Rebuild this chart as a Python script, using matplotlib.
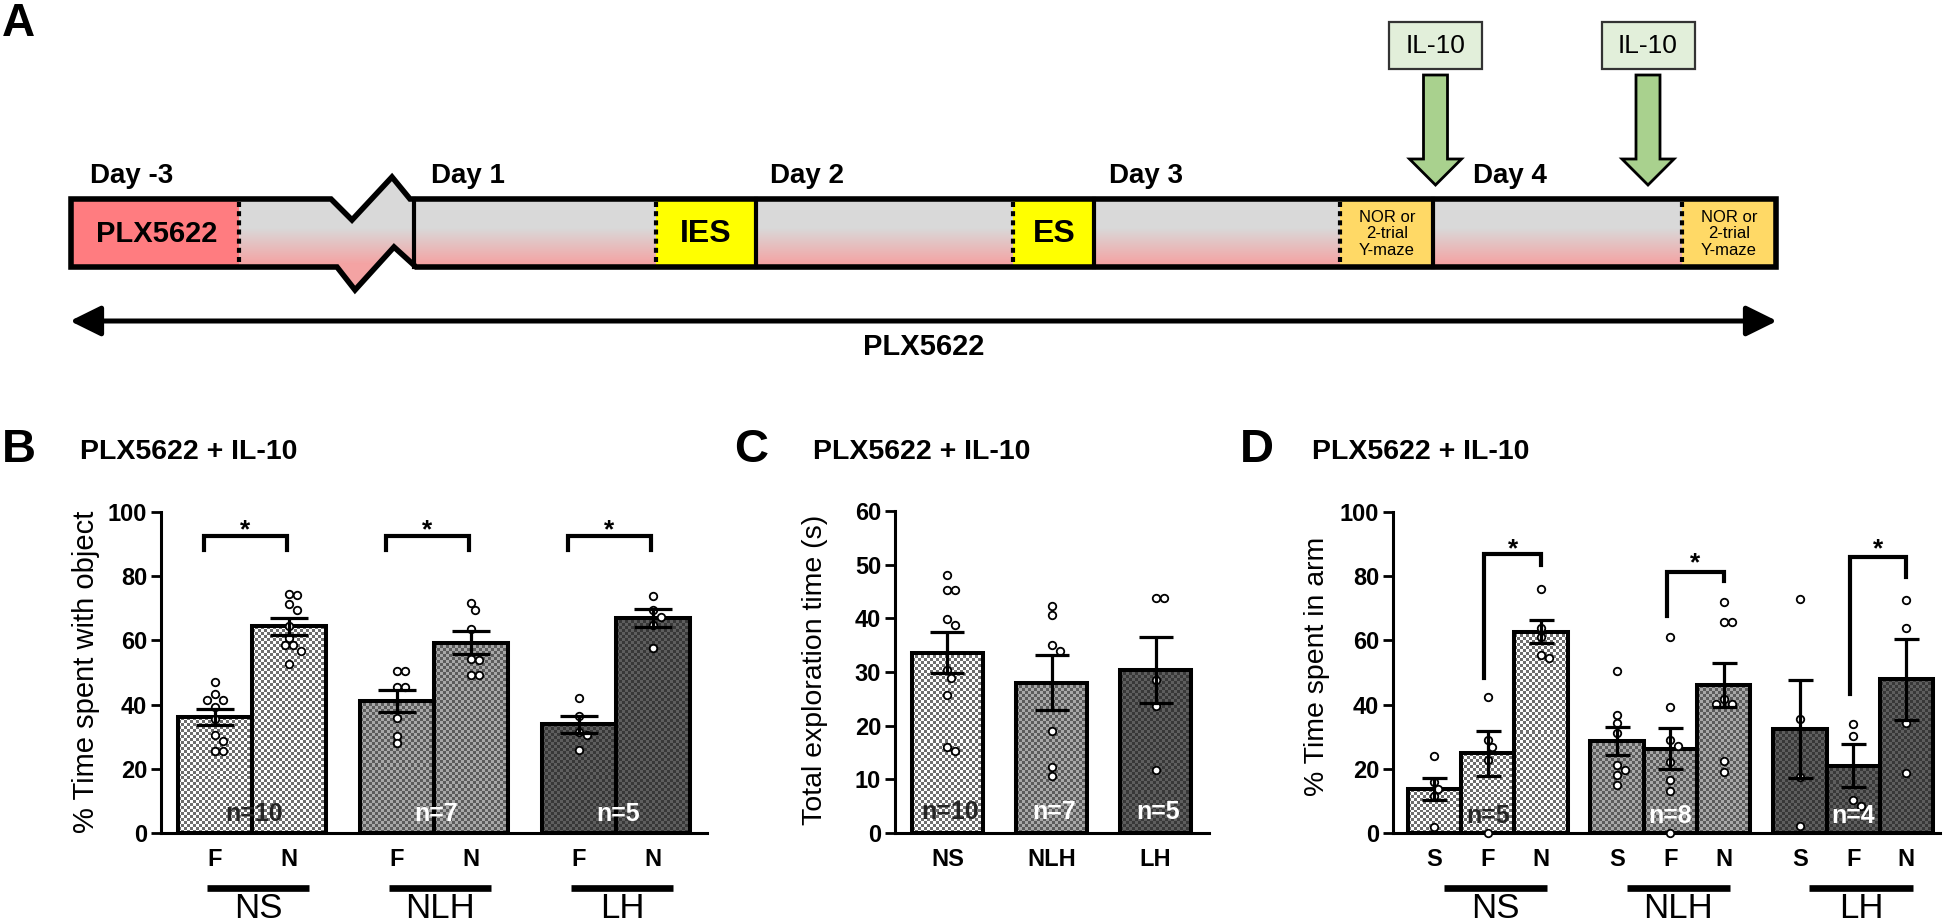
import numpy as np
import matplotlib
matplotlib.use('Agg')
import matplotlib.pyplot as plt
from matplotlib import font_manager as fm
from matplotlib import transforms
from matplotlib.colors import ListedColormap
from matplotlib.patches import Polygon, Rectangle

names = {f.name for f in fm.fontManager.ttflist}
NARROW = 'Liberation Sans Narrow' if 'Liberation Sans Narrow' in names else 'Liberation Sans'
plt.rcParams['font.family'] = ['Liberation Sans', 'DejaVu Sans']

# ---- data ----
GROUPS = ['NS', 'NLH', 'LH']

# B: novel object recognition, F = familiar, N = novel
B_CONDS = ['F', 'N']
B_MEAN = [[36.1, 64.4], [41.2, 59.3], [33.9, 67.0]]
B_SEM = [[2.5, 2.6], [3.5, 3.5], [2.6, 2.7]]
B_PTS = [
    [[47.0, 43.4, 41.4, 41.4, 39.3, 35.5, 30.5, 28.6, 25.6, 25.6],
     [74.6, 74.1, 71.2, 69.4, 64.6, 60.6, 58.5, 58.5, 56.8, 52.6]],
    [[50.4, 50.4, 45.6, 45.6, 35.9, 30.3, 27.9],
     [71.7, 69.4, 63.7, 54.2, 53.8, 49.2, 49.2]],
    [[42.2, 36.5, 31.5, 30.5, 25.8],
     [73.7, 69.4, 67.4, 64.9, 57.5]],
]
B_N = ['n=10', 'n=7', 'n=5']
# bracket: top, left leg end, right leg end, star centre
B_BRACKET = [[92.5, 88.3, 88.3, 97.0]] * 3

# C: total exploration time
C_MEAN = [33.6, 28.0, 30.4]
C_SEM = [3.8, 5.1, 6.1]
C_PTS = [
    [48.0, 45.2, 45.2, 39.9, 38.8, 30.3, 28.9, 25.7, 16.1, 15.2],
    [42.3, 40.7, 35.1, 34.0, 19.0, 12.3, 10.7],
    [43.7, 43.7, 28.5, 23.6, 11.8],
]
C_N = ['n=10', 'n=7', 'n=5']

# D: 2-trial Y-maze, S = start, F = familiar, N = novel
D_CONDS = ['S', 'F', 'N']
D_MEAN = [[13.7, 24.8, 62.7], [28.7, 26.3, 46.1], [32.5, 20.9, 47.9]]
D_SEM = [[3.4, 6.9, 3.6], [4.3, 6.5, 6.9], [15.3, 6.7, 12.6]]
D_PTS = [
    [[24.0, 15.8, 13.7, 11.6, 2.0],
     [42.4, 29.0, 26.9, 22.8, 0.0],
     [76.1, 63.9, 61.0, 55.4, 54.4]],
    [[50.5, 36.7, 34.2, 31.1, 21.2, 19.7, 18.0, 15.0],
     [61.1, 39.1, 28.9, 27.2, 22.0, 16.5, 13.0, 0.0],
     [72.0, 65.7, 65.7, 41.9, 40.1, 40.1, 22.3, 18.9]],
    [[73.0, 35.4, 17.3, 2.1],
     [34.1, 30.1, 10.3, 8.3],
     [72.5, 63.9, 34.4, 18.7]],
]
D_N = ['n=5', 'n=8', 'n=4']
D_BRACKET = [[87.0, 48.2, 83.6, 91.0], [81.3, 67.6, 78.4, 86.7], [86.0, 43.2, 79.7, 90.9]]

# checker colours per group and n-label colours
PAT = [('#ffffff', '#6e6e6e'), ('#a8a8a8', '#5c5c5c'), ('#5e5e5e', '#383838')]
NCOL = ['#262626', 'white', 'white']

TITLE = 'PLX5622 + IL-10'

W, H = 1946, 923
fig = plt.figure(figsize=(W / 100, H / 100), dpi=100)
ax0 = fig.add_axes([0, 0, 1, 1])
ax0.set_xlim(0, W)
ax0.set_ylim(H, 0)
ax0.axis('off')


# ================= panel A: timeline =================
ax0.text(2, 2, 'A', fontsize=33, fontweight='bold', ha='left', va='top')

top, bot = 199, 267
outline = [(71, top), (331, top), (352, 220), (392, 177), (410, top), (1776, top),
           (1776, bot), (416, bot), (394, 247), (355, 290), (337, bot), (71, bot)]
poly = Polygon(outline, closed=True, facecolor='none', edgecolor='black',
               linewidth=4, joinstyle='miter', zorder=4)
ax0.add_patch(poly)

yy = np.linspace(170, 295, 126)
t = np.clip((yy - 228) / (264 - 228), 0, 1)[:, None]
gray = np.array([0.851, 0.851, 0.851])
pink = np.array([0.957, 0.64, 0.64])
grad = (gray * (1 - t) + pink * t)[:, None, :].repeat(2, axis=1)
im = ax0.imshow(grad, extent=(71, 1776, 295, 170), aspect='auto', zorder=1,
                interpolation='bilinear')
im.set_clip_path(poly)

boxes = [(71, 239, '#ff7c80'), (656, 756, '#ffff00'), (1013, 1094, '#ffff00'),
         (1340, 1433, '#ffd966'), (1682, 1776, '#ffd966')]
for x0, x1, c in boxes:
    ax0.add_patch(Rectangle((x0, top), x1 - x0, bot - top, facecolor=c, edgecolor='none', zorder=2))
for x in [239, 656, 1013, 1340, 1682]:
    ax0.plot([x, x], [top + 3, bot - 3], color='black', lw=3, ls=(0, (1.2, 1.0)), zorder=3)
for x in [414, 756, 1094, 1433]:
    ax0.plot([x, x], [top, bot], color='black', lw=3, zorder=3)

ax0.text(157, 234, 'PLX5622', fontsize=21, fontweight='bold', ha='center', va='center', zorder=5)
ax0.text(706, 234, 'IES', fontsize=23, fontweight='bold', ha='center', va='center', zorder=5)
ax0.text(1054, 234, 'ES', fontsize=23, fontweight='bold', ha='center', va='center', zorder=5)
for xc in [1387, 1729]:
    ax0.text(xc, 234, 'NOR or\n2-trial\nY-maze', fontsize=12,
             ha='center', va='center', linespacing=1.1, zorder=5)

for lab, x in zip(['Day -3', 'Day 1', 'Day 2', 'Day 3', 'Day 4'], [90, 431, 770, 1109, 1473]):
    ax0.text(x, 183, lab, fontsize=20, fontweight='bold', ha='left', va='baseline')

for xc in [1435.5, 1648]:
    ax0.add_patch(Rectangle((xc - 46.5, 22), 93, 47, facecolor='#e2efda', edgecolor='#333333',
                            linewidth=1.6, zorder=3))
    ax0.text(xc, 46, 'IL-10', fontsize=19, ha='center', va='center', zorder=4)
    arrow = [(xc - 12, 75), (xc + 12, 75), (xc + 12, 159), (xc + 26, 159), (xc, 185),
             (xc - 26, 159), (xc - 12, 159)]
    ax0.add_patch(Polygon(arrow, closed=True, facecolor='#a9d18e', edgecolor='black',
                          linewidth=2, zorder=3))

ax0.annotate('', xy=(70, 321), xytext=(1777, 321),
             arrowprops=dict(arrowstyle='<|-|>,head_length=0.85,head_width=0.42', lw=3.6,
                             color='black', mutation_scale=22, shrinkA=0, shrinkB=0))
ax0.text(924, 347, 'PLX5622', fontsize=21, fontweight='bold', ha='center', va='center')


# ================= helpers for B, C, D =================
def new_axes(left, right, ybot=833, ytop=512):
    ax = fig.add_axes([left / W, 1 - ybot / H, (right - left) / W, (ybot - ytop) / H])
    ax.patch.set_visible(False)
    for s in ['top', 'right']:
        ax.spines[s].set_visible(False)
    for s in ['left', 'bottom']:
        ax.spines[s].set_linewidth(2.2)
    ax.tick_params(axis='y', length=7, width=2, pad=3, labelsize=17)
    ax.tick_params(axis='x', length=0, pad=10.5, labelsize=17)
    return ax


def checker(ax, x0, x1, y1, c1, c2, cell=3.0):
    p0 = ax.transData.transform((x0, 0))
    p1 = ax.transData.transform((x1, y1))
    nx = max(1, int(round((p1[0] - p0[0]) / cell)))
    ny = max(1, int(round((p1[1] - p0[1]) / cell)))
    arr = np.add.outer(np.arange(ny), np.arange(nx)) % 2
    ax.imshow(arr, extent=(x0, x1, 0, y1), cmap=ListedColormap([c1, c2]), vmin=0, vmax=1,
              interpolation='nearest', aspect='auto', origin='lower', zorder=1)


def swarm_x(ax, xc, vals, d=8.0):
    tr = ax.transData
    px0 = tr.transform((xc, 0))[0]
    placed, out = [], []
    for v in vals:
        py = tr.transform((xc, v))[1]
        cx = px0
        for k in [0, 0.5, -0.5, 1, -1, 1.5, -1.5, 2, -2]:
            cx = px0 + k * d
            if all((cx - qx) ** 2 + (py - qy) ** 2 >= (d * 0.95) ** 2 for qx, qy in placed):
                break
        placed.append((cx, py))
        out.append(tr.inverted().transform((cx, py))[0])
    return out


def draw_bar(ax, x, m, s, pts, pat, capsize):
    checker(ax, x - 0.5, x + 0.5, m, *pat)
    ax.bar(x, m, width=1.0, facecolor='none', edgecolor='black', linewidth=2.9, zorder=3)
    ax.plot(swarm_x(ax, x, pts), pts, 'o', ms=5.4, mfc='white', mec='black', mew=1.3,
            zorder=4, clip_on=False)
    ax.errorbar(x, m, yerr=s, fmt='none', ecolor='black', elinewidth=2.3, capsize=capsize,
                capthick=2.3, zorder=5)


def bracket(ax, x1, x2, b):
    ytop, yl, yr, ystar = b
    ax.plot([x1, x1, x2, x2], [yl, ytop, ytop, yr], color='black', lw=3,
            solid_joinstyle='miter', clip_on=False, zorder=6)
    ax.annotate('*', xy=((x1 + x2) / 2, ystar), xytext=(0, -11), textcoords='offset points',
                ha='center', va='baseline', fontsize=19, fontweight='bold')


def group_labels(ax, centers, half, ypx_line=888, ypx_text=909):
    blend = transforms.blended_transform_factory(ax.transData, ax0.transData)
    for c, g in zip(centers, GROUPS):
        ax.plot([c - half, c + half], [ypx_line, ypx_line], color='black', lw=4.8,
                solid_capstyle='butt', transform=blend, clip_on=False)
        ax.text(c, ypx_text, g, family=NARROW, fontsize=25, ha='center', va='center',
                transform=blend)


def panel_head(letter, xl, xt):
    ax0.text(xl, 450, letter, fontsize=34, fontweight='bold', ha='left', va='center')
    ax0.text(xt, 452, TITLE, fontsize=20.5, fontweight='bold', ha='left', va='center')


# ================= panel B =================
panel_head('B', 2, 80)
axB = new_axes(161, 707)
b_step = 2.46
xlimB = (-0.73, 6.648)
axB.set_xlim(*xlimB)
axB.set_ylim(0, 100)
axB.set_yticks(range(0, 101, 20), labels=[str(v) for v in range(0, 101, 20)], fontweight='bold')
bx = [g * b_step + c for g in range(3) for c in range(2)]
axB.set_xticks(bx, labels=B_CONDS * 3, fontweight='bold')
for g in range(3):
    for c in range(2):
        draw_bar(axB, g * b_step + c, B_MEAN[g][c], B_SEM[g][c], B_PTS[g][c], PAT[g], 13.5)
    bracket(axB, g * b_step - 0.15, g * b_step + 0.97, B_BRACKET[g])
    axB.text(g * b_step + 0.53, 6.0, B_N[g], fontsize=18, fontweight='bold', color=NCOL[g],
             ha='center', va='center', zorder=7)
axB.set_xlim(*xlimB)
axB.set_ylim(0, 100)
group_labels(axB, [g * b_step + 0.58 for g in range(3)], 0.69)
ax0.text(86, 672, '% Time spent with object', rotation=90, fontsize=21, ha='center', va='center')

# ================= panel C =================
panel_head('C', 734, 813)
axC = new_axes(895, 1209, ytop=511)
c_step = 1.465
xlimC = (-0.739, 3.683)
axC.set_xlim(*xlimC)
axC.set_ylim(0, 60)
axC.set_yticks(range(0, 61, 10), labels=[str(v) for v in range(0, 61, 10)], fontweight='bold')
cx = [g * c_step for g in range(3)]
axC.set_xticks(cx, labels=GROUPS, fontweight='bold')
for g in range(3):
    draw_bar(axC, cx[g], C_MEAN[g], C_SEM[g], C_PTS[g], PAT[g], 12.5)
    axC.text(cx[g] + 0.03, 3.9, C_N[g], fontsize=18, fontweight='bold', color=NCOL[g],
             ha='center', va='center', zorder=7)
axC.set_xlim(*xlimC)
axC.set_ylim(0, 60)
ax0.text(815, 670, 'Total exploration time (s)', rotation=90, fontsize=20.5, ha='center', va='center')

# ================= panel D =================
panel_head('D', 1240, 1312)
axD = new_axes(1393, 1940)
d_step = 3.43
xlimD = (-0.777, 9.49)
axD.set_xlim(*xlimD)
axD.set_ylim(0, 100)
axD.set_yticks(range(0, 101, 20), labels=[str(v) for v in range(0, 101, 20)], fontweight='bold')
dx = [g * d_step + c for g in range(3) for c in range(3)]
axD.set_xticks(dx, labels=D_CONDS * 3, fontweight='bold')
for g in range(3):
    for c in range(3):
        draw_bar(axD, g * d_step + c, D_MEAN[g][c], D_SEM[g][c], D_PTS[g][c], PAT[g], 9)
    bracket(axD, g * d_step + 0.94, g * d_step + 2.0, D_BRACKET[g])
    axD.text(g * d_step + 1.0, 5.3, D_N[g], fontsize=18, fontweight='bold', color=NCOL[g],
             ha='center', va='center', zorder=7)
axD.set_xlim(*xlimD)
axD.set_ylim(0, 100)
group_labels(axD, [g * d_step + 1.15 for g in range(3)], 0.97)
ax0.text(1317, 666, '% Time spent in arm', rotation=90, fontsize=20.5, ha='center', va='center')

fig.savefig('out.png', dpi=100)
